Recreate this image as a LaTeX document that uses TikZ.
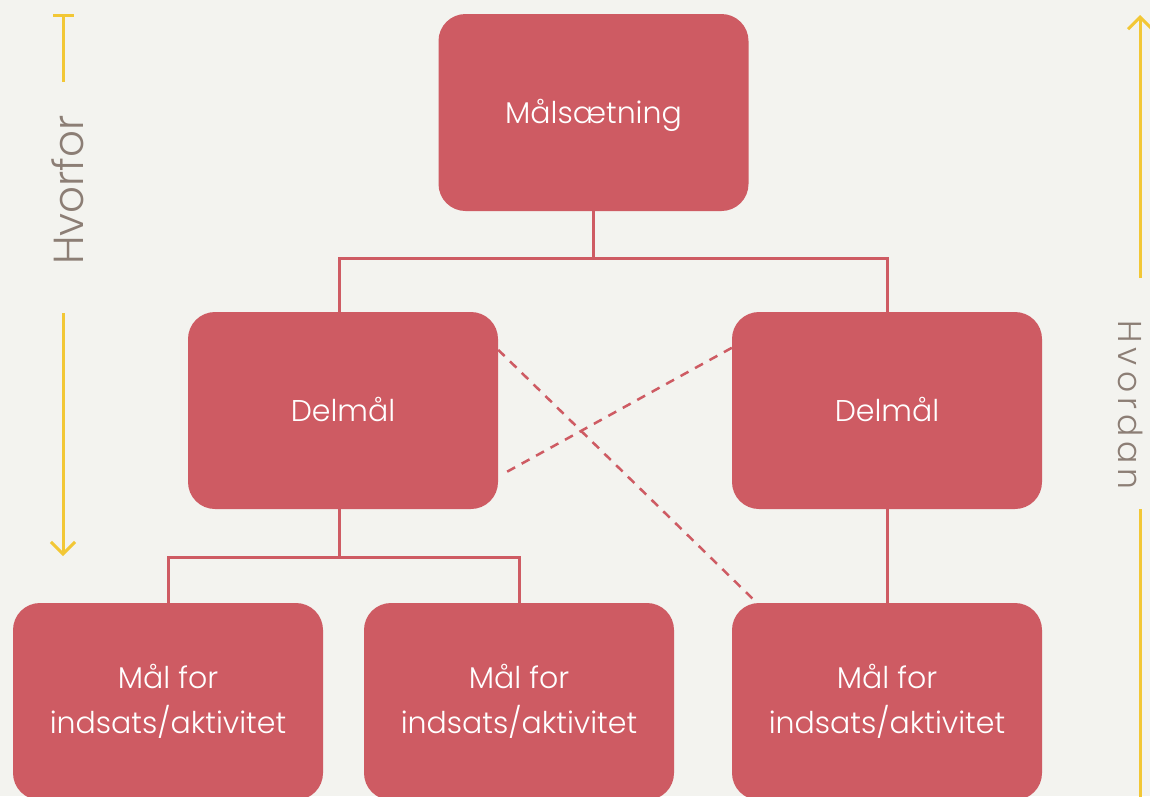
\documentclass[tikz,border=0pt]{standalone}
\usepackage{fontspec}
\setmainfont{Poppins Light}
\usetikzlibrary{arrows.meta,calc}
\definecolor{bg}{HTML}{F3F3EF}
\definecolor{boxred}{HTML}{CE5B63}
\definecolor{guideyellow}{HTML}{F2C735}
\definecolor{labelgray}{HTML}{8C7E75}
\begin{document}
\begin{tikzpicture}[x=1pt,y=-1pt,
  goal/.style={fill=boxred, rounded corners=27pt, minimum width=310pt,
    minimum height=197pt, inner sep=0pt, text=white, align=center,
    font=\fontsize{30}{45}\selectfont},
  oneline/.style={text height=24pt, text depth=2pt},
  link/.style={draw=boxred, line width=3pt, line join=miter},
  crosslink/.style={draw=boxred, line width=2.5pt, dash pattern=on 9pt off 7.5pt},
  guide/.style={draw=guideyellow, line width=3pt},
  barb/.style={-{Straight Barb[length=12pt,width=24pt,line width=3pt]}},
  sidelabel/.style={text=labelgray, inner sep=0pt}]
\useasboundingbox (0,0) rectangle (1150,796);
\clip (0,0) rectangle (1150,796);
\fill[bg] (0,0) rectangle (1150,796);

% goal hierarchy
\node[goal, oneline] (top) at (593.5,112.5) {Målsætning};
\node[goal, oneline] (dl) at (343,410.5) {Delmål};
\node[goal, oneline] (dr) at (887,410.5) {Delmål};
\node[goal] (bl) at (168,701.5) {Mål for\\indsats/aktivitet};
\node[goal] (bm) at (519,701.5) {Mål for\\indsats/aktivitet};
\node[goal] (br) at (887,701.5) {Mål for\\indsats/aktivitet};

% tree connectors
\coordinate (j1) at ($(top.south)+(0,47)$);
\draw[link] (top.south) -- (j1);
\draw[link] ($(dl.north)+(-4,0)$) |- (j1) -| (dr.north);
\coordinate (j2) at ($(dl.south)+(-4,48)$);
\draw[link] ($(dl.south)+(-4,0)$) -- (j2);
\draw[link] (bl.north) |- (j2) -| (bm.north);
\draw[link] (dr.south) -- (br.north);

% cross links
\draw[crosslink] ($(dl.north east)+(0,38)$) -- ($(br.north west)+(25,0)$);
\draw[crosslink] ($(dr.north west)+(0,36)$) -- ($(dl.south east)+(8,-37)$);

% left guide: why
\draw[guide] (53,15) -- (74,15);
\draw[guide] (63,15) -- (63,82);
\node[sidelabel, rotate=90, font=\fontsize{42}{42}\selectfont]
  (why) at (68,190) {Hvorfor};
\draw[guide, barb] (63,313) -- (63,556);

% right guide: how
\draw[guide, barb] (1140,278) -- (1140,15);
\node[sidelabel, rotate=-90,
  font=\fontsize{33}{33}\selectfont\addfontfeature{LetterSpace=15}]
  (how) at (1131,405) {Hvordan};
\draw[guide] (1140,509) -- (1140,800);
\end{tikzpicture}
\end{document}
